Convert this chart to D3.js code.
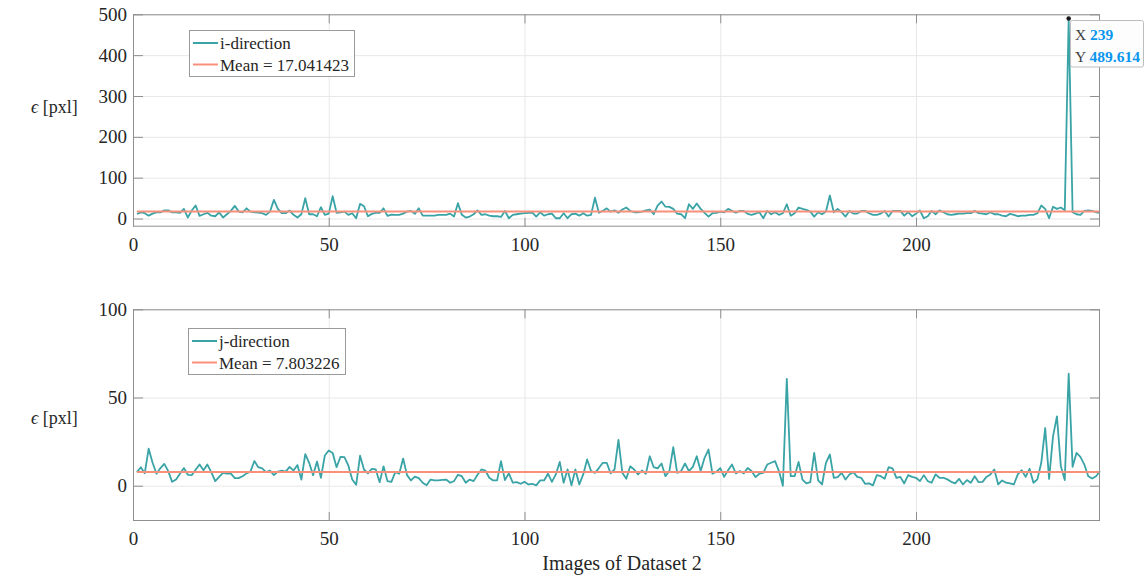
<!DOCTYPE html>
<html>
<head>
<meta charset="utf-8">
<script src="https://cdn.jsdelivr.net/npm/d3@7"></script>
<style>
  html, body { margin: 0; padding: 0; background: #fff; }
  svg { display: block; }
  text { font-family: "Liberation Serif", "Times New Roman", serif; }
</style>
</head>
<body>
<svg id="chart" width="1145" height="580"></svg>
<script>
// Pixel error per image, i-direction
const iDirection = [
  11,15,13,7,12,15,15,20,20,15,
  15,14,23.5,2.4,19.5,32,6.5,10.5,14,7,
  5.6,15,2.4,10.5,18.7,31,17,15,25,17,
  15,14.6,13,9,17,45.7,23.6,13,13,19.5,
  9,2.4,10.5,49.7,10.5,10.5,5.6,27.7,9,12,
  54.7,14,15.4,17,9,13,0.7,36,30,5.6,
  11.4,14,14,25,6.5,9.7,9,9,12,17,
  18.7,11.4,25,7,7,7,7,9,9,9,
  12,4.8,37.5,9,2.4,4.8,10.5,20,9,10.5,
  7,5.6,5.6,4,18.7,0.7,9,10.5,12,13,
  14,14.6,4.8,15.4,7,10.5,12,0.7,0.7,13,
  0.7,10.5,12,7,13,7,9,51,14,18.7,
  25,17,20,14,22,27,18.7,15.4,15.4,17,
  20,22,10.5,31.8,41.6,29,28.5,23.6,12,10.5,
  0.7,35,23.6,36.7,23.6,14,4.8,13,14,17,
  15.4,23.6,18.7,14,18.7,18.7,11.4,9,12,15.4,
  0.7,18.7,10.5,15.4,9,13,35,7,13,27,
  23.6,21,17,4.8,15.4,10.5,17,56.3,15.4,23.6,
  15.4,4.8,18.7,12,12,18.7,18.7,13,9,9,
  12,18.7,4.8,18.7,18.7,18.7,7,15.4,5.6,12,
  19.5,0.7,5.6,18.7,10.5,20,15.4,10.5,9,10.5,
  12,12,13,13,18.7,13,12,10.5,15.4,10.5,
  10.5,7,5.6,11.4,9,5.6,7,7,9,9,
  13,31.8,23.6,0.7,29,23.6,27,20,489.614,15.4,
  10.5,9,18.7,20,18.7,15.4,14
];

// Pixel error per image, j-direction
const jDirection = [
  7.7,10.5,7,21,13,6.8,10,12.4,8.3,2.2,
  3.5,6.8,10,6.2,6,9,12,8.8,12,7.7,
  2.6,5,7.3,6.8,6.8,4.3,4.3,5.4,7,8,
  14,10.5,9.8,7.7,8.6,6,8,8.6,8,10.7,
  8.6,11.7,3.5,17.9,13,6,13.7,4.5,17.1,20,
  18.6,10.5,16.4,16.2,11.5,3.5,0.5,17,9.2,7,
  9.6,9.2,2,11,2.6,2.2,7.7,6.8,15.4,6,
  3,5.2,4.3,1.7,0.2,3.5,3,3,3.3,3.5,
  1.7,2.6,6.2,5.4,1.7,3.5,2.6,6.2,9.2,8.6,
  4.5,3,3,13.9,3.2,7,1.7,2,1.1,2.2,
  0.7,1.1,0.2,3,3,6.8,2.2,6.4,13.5,1.7,
  9.2,0.2,9.2,0.7,6.4,14.9,8.3,7.3,10,13,
  13,7,9.2,26,7.3,3.9,11,9.2,6.4,8.6,
  6.8,16.7,10.5,9.8,12.6,5.4,8.3,21.8,7.3,8.3,
  12.6,8.3,10.7,16.7,8.3,15.8,20.5,6.8,7.9,10,
  5,8.8,12,7,8.3,7,10,8.3,4.9,6.8,
  7.3,12,13,13.9,8.3,0,60.6,5.4,5.4,13.5,
  3.5,1.3,2,18.6,3,0.7,13,17.7,4.5,4.9,
  7.3,3.5,6.4,7.7,5,4.5,1.1,1.3,0.2,6,
  5.4,3.9,10.5,9.8,4.5,5,1.3,6,5,4.5,
  2.6,6,2.6,1.7,6.4,4.5,4.5,3.6,2.2,1.3,
  3.9,0.7,3.2,1.7,5.4,2,2.2,5,6.4,9.2,
  0.7,3,1.7,1.3,0.7,6.4,8.8,5,9.6,1.7,
  3.6,13,32.7,3.9,28,39.3,11,3.2,63.5,10.7,
  18.6,16.3,12,5.4,4.1,5.4,8.2
];

const meanI = 17.041423;
const meanJ = 7.803226;

const xTicks = [0, 50, 100, 150, 200];
const yTicksTop = [0, 100, 200, 300, 400, 500];
const yTicksBottom = [0, 50, 100];

const legendTop = ["i-direction", "Mean = 17.041423"];
const legendBottom = ["j-direction", "Mean = 7.803226"];

const tipIndex = 239;

// ---- drawing ----
const svg = d3.select("#chart");
const FONT = "Liberation Serif";
const C_LINE = "#3aa3a6";
const C_MEAN = "#f8907c";
const C_FRAME = "#8f8f8f";
const C_TEXT = "#262626";
const C_GRID = "#e8e8e8";

const left = 133, right = 1100;
const x = d3.scaleLinear().domain([0, 247]).range([left, right]);

function panel(cfg) {
  const y = d3.scaleLinear().domain(cfg.yDomain).range([cfg.bottom, cfg.top]);
  const g = svg.append("g");
  const w = right - left, h = cfg.bottom - cfg.top;

  // grid
  g.append("g").attr("transform", `translate(0,${cfg.bottom})`)
    .call(d3.axisBottom(x).tickValues(xTicks.filter(d => d > 0)).tickSize(-h).tickFormat(""))
    .call(s => s.select(".domain").remove())
    .call(s => s.selectAll("line").attr("stroke", C_GRID).attr("stroke-width", 1));
  g.append("g").attr("transform", `translate(${left},0)`)
    .call(d3.axisLeft(y).tickValues(cfg.yTicks).tickSize(-w).tickFormat(""))
    .call(s => s.select(".domain").remove())
    .call(s => s.selectAll("line").attr("stroke", C_GRID).attr("stroke-width", 1));

  const idx = cfg.values.map((v, i) => i + 1);

  // series
  const line = d3.line().x((d, i) => x(i + 1)).y(d => y(d));
  g.append("path").datum(cfg.values)
    .attr("fill", "none").attr("stroke", C_LINE).attr("stroke-width", 1.8)
    .attr("stroke-linejoin", "round").attr("d", line);

  // mean
  g.append("line")
    .attr("x1", x(idx[0])).attr("x2", x(idx[idx.length - 1]))
    .attr("y1", y(cfg.mean)).attr("y2", y(cfg.mean))
    .attr("stroke", C_MEAN).attr("stroke-width", 2);

  // ticks (inward) on all four sides
  const styleTicks = s => {
    s.attr("font-family", FONT).attr("font-size", 19);
    s.select(".domain").remove();
    s.selectAll("line").attr("stroke", C_FRAME);
    s.selectAll("text").attr("fill", C_TEXT);
  };
  g.append("g").attr("transform", `translate(0,${cfg.bottom})`)
    .call(d3.axisBottom(x).tickValues(xTicks).tickSize(-9).tickPadding(11))
    .call(styleTicks);
  g.append("g").attr("transform", `translate(0,${cfg.top})`)
    .call(d3.axisTop(x).tickValues(xTicks).tickSize(-9).tickFormat(""))
    .call(styleTicks);
  g.append("g").attr("transform", `translate(${left},0)`)
    .call(d3.axisLeft(y).tickValues(cfg.yTicks).tickSize(-10).tickPadding(6))
    .call(styleTicks);
  g.append("g").attr("transform", `translate(${right},0)`)
    .call(d3.axisRight(y).tickValues(cfg.yTicks).tickSize(-10).tickFormat(""))
    .call(styleTicks);

  // frame
  g.append("rect").attr("x", left + 0.5).attr("y", cfg.top + 0.5)
    .attr("width", w - 1).attr("height", h - 1)
    .attr("fill", "none").attr("stroke", C_FRAME).attr("stroke-width", 1);

  // y label
  const yl = g.append("text").attr("x", 31).attr("y", cfg.yLabelY)
    .attr("font-size", 18).attr("fill", C_TEXT);
  yl.append("tspan").attr("font-style", "italic").text("\u03F5");
  yl.append("tspan").text(" [pxl]");

  // legend
  const L = cfg.legend;
  const lg = g.append("g");
  lg.append("rect").attr("x", L.x + 0.5).attr("y", L.y + 0.5)
    .attr("width", L.w).attr("height", L.h)
    .attr("fill", "#fff").attr("stroke", "#9a9a9a");
  [C_LINE, C_MEAN].forEach((c, k) => {
    const yy = L.y + 13 + k * 21.5;
    lg.append("line").attr("x1", L.x + 4).attr("x2", L.x + 29)
      .attr("y1", yy).attr("y2", yy).attr("stroke", c).attr("stroke-width", 2);
    lg.append("text").attr("x", L.x + 31).attr("y", yy + 6)
      .attr("font-size", 17).attr("fill", C_TEXT).text(cfg.labels[k]);
  });

  return y;
}

const yTop = panel({
  values: iDirection, mean: meanI, yDomain: [-20, 500], yTicks: yTicksTop,
  top: 14.3, bottom: 226.7, yLabelY: 113,
  legend: { x: 189, y: 30, w: 165, h: 46 }, labels: legendTop
});

const yBot = panel({
  values: jDirection, mean: meanJ, yDomain: [-20, 100], yTicks: yTicksBottom,
  top: 309.3, bottom: 521, yLabelY: 424,
  legend: { x: 188, y: 328, w: 157, h: 46 }, labels: legendBottom
});

// x label
svg.append("text").attr("x", 622).attr("y", 570).attr("text-anchor", "middle")
  .attr("font-size", 20).attr("fill", C_TEXT).text("Images of Dataset 2");

// data tip on the peak
const px = x(tipIndex), py = yTop(iDirection[tipIndex - 1]);
svg.append("circle").attr("cx", px).attr("cy", py).attr("r", 2.3).attr("fill", "#1a1a1a");
const tip = svg.append("g");
tip.append("rect").attr("x", 1070.5).attr("y", 20.5).attr("width", 73).attr("height", 46.5)
  .attr("rx", 2).attr("fill", "#fdfdfd").attr("stroke", "#bdbdbd");
[["X", String(tipIndex), 40], ["Y", iDirection[tipIndex - 1].toFixed(3), 61.5]].forEach(r => {
  const t = tip.append("text").attr("x", 1075).attr("y", r[2]).attr("font-size", 15.5);
  t.append("tspan").attr("fill", "#404040").text(r[0] + " ");
  t.append("tspan").attr("fill", "#0a96ee").attr("font-weight", "bold").text(r[1]);
});
</script>
</body>
</html>
